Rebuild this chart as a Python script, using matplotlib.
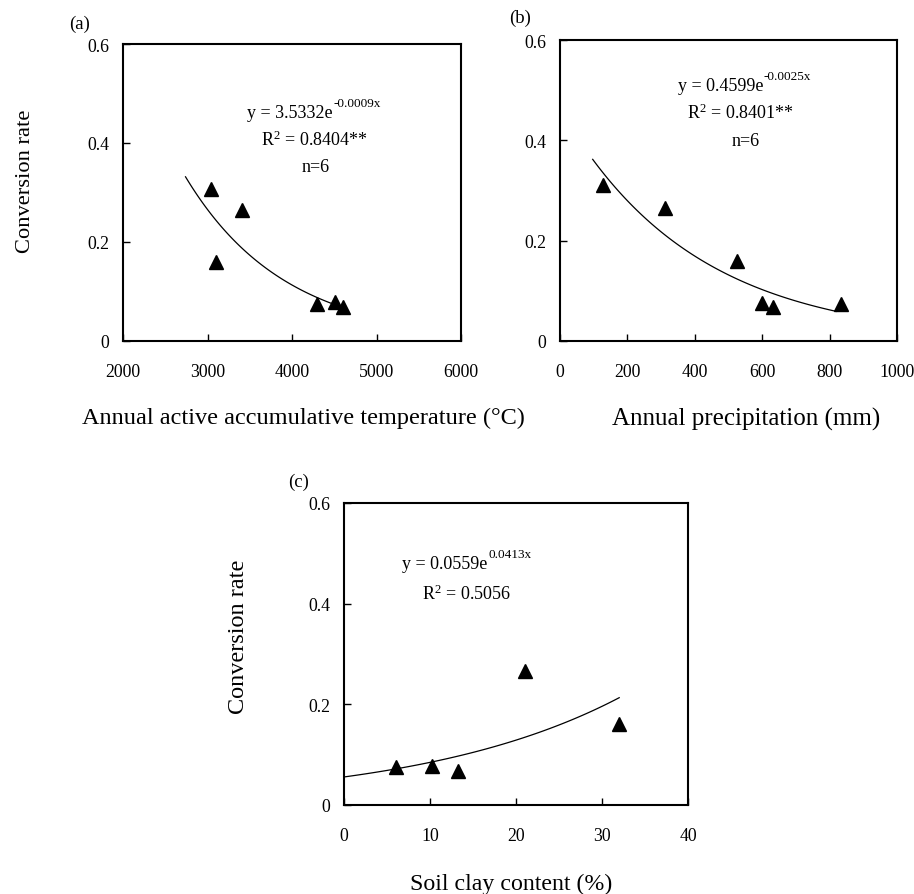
import numpy as np
import matplotlib
matplotlib.use("Agg")
import matplotlib.pyplot as plt

plt.rcParams['font.family'] = ['Liberation Serif', 'DejaVu Serif']
plt.rcParams['mathtext.fontset'] = 'custom'
plt.rcParams['mathtext.rm'] = 'Liberation Serif'
plt.rcParams['mathtext.it'] = 'Liberation Serif:italic'

# ---- data ----
temp_x = [3039, 3102, 3406, 4299, 4508, 4598]
temp_y = [0.307, 0.159, 0.264, 0.074, 0.078, 0.069]
temp_trend_range = [2740, 4500]

precip_x = [128, 312, 526, 600, 633, 835]
precip_y = [0.310, 0.265, 0.159, 0.075, 0.067, 0.073]
precip_trend_range = [97, 820]

clay_x = [6.05, 10.2, 13.3, 21.0, 32.0]
clay_y = [0.075, 0.078, 0.068, 0.267, 0.161]
clay_trend_range = [0, 32.0]

y_ticks = [0, 0.2, 0.4, 0.6]
y_ticklabels = ["0", "0.2", "0.4", "0.6"]
temp_xticks = [2000, 3000, 4000, 5000, 6000]
precip_xticks = [0, 200, 400, 600, 800, 1000]
clay_xticks = [0, 10, 20, 30, 40]

eq_a_base, eq_a_sup = "y = 3.5332e", "-0.0009x"
eq_b_base, eq_b_sup = "y = 0.4599e", "-0.0025x"
eq_c_base, eq_c_sup = "y = 0.0559e", "0.0413x"
r2_a = "$\\mathregular{R^{2}}$ = 0.8404**"
r2_b = "$\\mathregular{R^{2}}$ = 0.8401**"
r2_c = "$\\mathregular{R^{2}}$ = 0.5056"
n_text = "n=6"

TICK_FS = 12.8
EQ_FS = 13
SUP_FS = 9.5
W, H = 914, 895
fig = plt.figure(figsize=(W / 100, H / 100), dpi=100)


def fx(px):
    return px / W


def fy(py):
    return 1 - py / H


def px_axes(l, t, r, b):
    return fig.add_axes([l / W, 1 - b / H, (r - l) / W, (b - t) / H])


def exp_trend(x, y, rng):
    k, lna = np.polyfit(np.array(x), np.log(np.array(y)), 1)
    xs = np.linspace(rng[0], rng[1], 100)
    return xs, np.exp(lna) * np.exp(k * xs)


def style(ax, xticks, xlim):
    ax.set_xlim(*xlim)
    ax.set_ylim(0, 0.6)
    ax.set_xticks(xticks)
    ax.set_xticklabels([str(v) for v in xticks])
    ax.set_yticks(y_ticks)
    ax.set_yticklabels(y_ticklabels)
    ax.tick_params(direction='in', length=5, width=1, labelsize=TICK_FS)
    ax.tick_params(axis='x', pad=15.5)
    ax.tick_params(axis='y', pad=10)
    for s in ax.spines.values():
        s.set_linewidth(1.5)


def panel(ax, x, y, rng, xticks, xlim):
    xs, ys = exp_trend(x, y, rng)
    ax.plot(xs, ys, color='black', lw=0.9)
    ax.plot(x, y, linestyle='none', marker='^', color='black', markersize=9.5)
    style(ax, xticks, xlim)


def equation(base, sup, split_x, baseline_y):
    fig.text(fx(split_x), fy(baseline_y), base, ha='right', va='baseline', fontsize=EQ_FS)
    fig.text(fx(split_x + 1), fy(baseline_y - 11), sup, ha='left', va='baseline', fontsize=SUP_FS)


def ctext(s, x, y, fs, **kw):
    kw.setdefault('va', 'center')
    fig.text(fx(x), fy(y), s, ha='center', fontsize=fs, **kw)


# (a)
ax_a = px_axes(123, 45, 461, 342)
panel(ax_a, temp_x, temp_y, temp_trend_range, temp_xticks, (2000, 6000))
equation(eq_a_base, eq_a_sup, 333, 118)
ctext(r2_a, 314, 140, EQ_FS)
ctext(n_text, 316, 167, EQ_FS)
ctext("(a)", 80, 24, 13.5)
ctext("Conversion rate", 26, 181, 16.2, rotation=90)
ctext("Annual active accumulative temperature (°C)", 303, 424, 17.5, va='baseline')

# (b)
ax_b = px_axes(560, 41, 897, 342)
panel(ax_b, precip_x, precip_y, precip_trend_range, precip_xticks, (0, 1000))
equation(eq_b_base, eq_b_sup, 763, 91)
ctext(r2_b, 740, 113, EQ_FS)
ctext(n_text, 746, 142, EQ_FS)
ctext("(b)", 520, 18, 13.5)
ctext("Annual precipitation (mm)", 746, 426, 18, va='baseline')

# (c)
ax_c = px_axes(344, 504, 688, 806)
panel(ax_c, clay_x, clay_y, clay_trend_range, clay_xticks, (0, 40))
equation(eq_c_base, eq_c_sup, 487, 569)
ctext(r2_c, 467, 594, EQ_FS)
ctext("(c)", 299, 482, 13.5)
ctext("Conversion rate", 239, 637, 17.5, rotation=90)
ctext("Soil clay content (%)", 511, 890, 17.2, va='baseline')

fig.savefig("out.png", dpi=100)
